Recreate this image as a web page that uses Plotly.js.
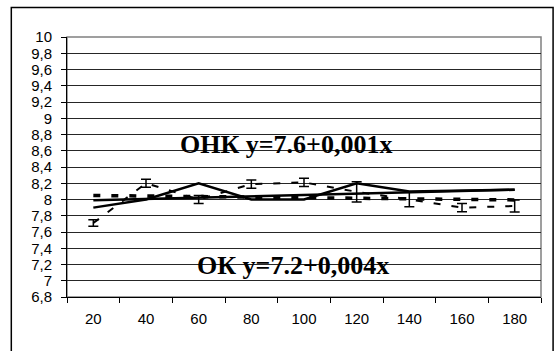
<!DOCTYPE html>
<html>
<head>
<meta charset="utf-8">
<script src="https://cdn.plot.ly/plotly-3.0.1.min.js"></script>
<style>html,body{margin:0;padding:0;background:#fff;}#chart{width:556px;height:351px;}</style>
</head>
<body>
<div id="chart"></div>
<script>
// Categories (x axis)
var categories = ['20','40','60','80','100','120','140','160','180'];
// Solid series (ОНК)
var solidValues = [7.9, 8.0, 8.2, 8.0, 8.0, 8.2, 8.1, 8.11, 8.12];
// Dashed series (ОК) with error bars
var dashedValues = [7.71, 8.2, 8.0, 8.19, 8.21, 8.095, 8.0, 7.9, 7.92];
var dashedErrors = [0.04, 0.05, 0.05, 0.05, 0.05, 0.125, 0.09, 0.05, 0.075];
// Trend lines, end points
var trendCats = ['20','180'];
var solidTrend = [7.99, 8.12];
var dashedTrend = [8.05, 7.995];
// Y tick labels
var yTickVals = [6.8,7,7.2,7.4,7.6,7.8,8,8.2,8.4,8.6,8.8,9,9.2,9.4,9.6,9.8,10];
var yTickText = ['6,8','7','7,2','7,4','7,6','7,8','8','8,2','8,4','8,6','8,8','9','9,2','9,4','9,6','9,8','10'];
// Text labels
var labelOnk = 'ОНК y=7.6+0,001x';
var labelOk = 'ОК y=7.2+0,004x';

var traces = [
  {x: categories, y: dashedValues, type: 'scatter', mode: 'lines', name: 'ОК',
   line: {color: '#000', width: 2, dash: '7px,11px'},
   error_y: {type: 'data', array: dashedErrors, visible: true, color: '#000', thickness: 1.5, width: 5}},
  {x: trendCats, y: dashedTrend, type: 'scatter', mode: 'lines', name: 'ОК тренд',
   line: {color: '#000', width: 3.5, dash: '7px,11px'}},
  {x: categories, y: solidValues, type: 'scatter', mode: 'lines', name: 'ОНК',
   line: {color: '#000', width: 2.5}},
  {x: trendCats, y: solidTrend, type: 'scatter', mode: 'lines', name: 'ОНК тренд',
   line: {color: '#000', width: 2.5}}
];

var layout = {
  width: 556, height: 351,
  margin: {l: 67, r: 15, t: 37, b: 54, pad: 0},
  paper_bgcolor: '#fff', plot_bgcolor: '#fff',
  showlegend: false,
  font: {family: 'Liberation Sans, Arial, sans-serif', size: 15, color: '#000'},
  xaxis: {type: 'category', categoryorder: 'array', categoryarray: categories,
    range: [-0.5, 8.5], tickson: 'boundaries', ticks: 'outside', ticklen: 5, tickcolor: '#000',
    showgrid: false, zeroline: false, showline: true, linecolor: '#000', linewidth: 1,
    ticklabelstandoff: 8, tickfont: {size: 15}},
  yaxis: {range: [6.8, 10], tickvals: yTickVals, ticktext: yTickText,
    ticks: 'outside', ticklen: 5, tickcolor: '#000', ticklabelstandoff: 6,
    showgrid: true, gridcolor: '#262626', gridwidth: 1, zeroline: false,
    showline: true, linecolor: '#000', linewidth: 1, tickfont: {size: 15}},
  shapes: [
    {type: 'rect', xref: 'paper', yref: 'paper', x0: 0, x1: 1, y0: 0, y1: 1,
     line: {color: '#808080', width: 1.5}, layer: 'below'},
    {type: 'rect', xref: 'paper', yref: 'paper', x0: -0.1175, x1: 1.0255, y0: -0.3, y1: 1.1135,
     line: {color: '#000', width: 1.5}}
  ],
  annotations: [
    {text: labelOnk, xref: 'paper', yref: 'paper', x: 0.462, y: 0.585, showarrow: false,
     xanchor: 'center', yanchor: 'middle',
     font: {family: 'Liberation Serif, Times New Roman, serif', size: 26, color: '#000', weight: 'bold'}},
    {text: labelOk, xref: 'paper', yref: 'paper', x: 0.477, y: 0.123, showarrow: false,
     xanchor: 'center', yanchor: 'middle',
     font: {family: 'Liberation Serif, Times New Roman, serif', size: 26, color: '#000', weight: 'bold'}}
  ]
};

Plotly.newPlot('chart', traces, layout, {displayModeBar: false, staticPlot: true});
</script>
</body>
</html>
